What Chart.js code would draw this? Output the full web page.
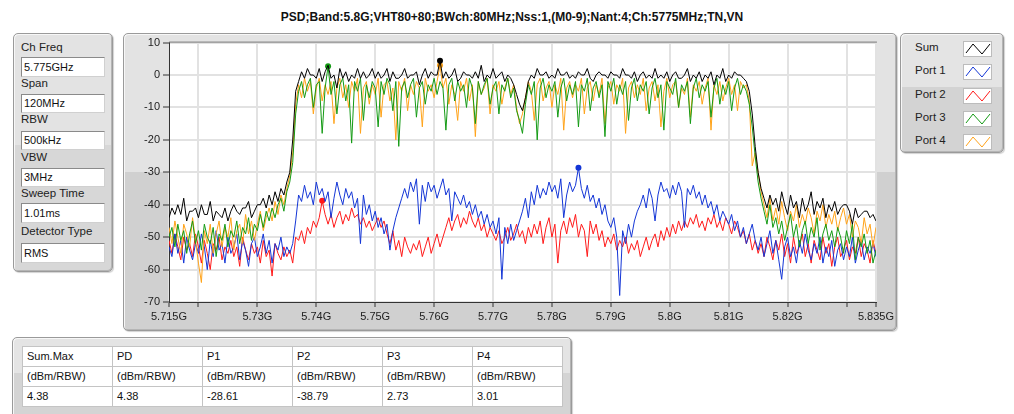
<!DOCTYPE html>
<html><head><meta charset="utf-8">
<script src="https://cdn.jsdelivr.net/npm/chart.js@4.4.1/dist/chart.umd.min.js"></script>
<style>
body{margin:0;width:1014px;height:414px;overflow:hidden;background:#fff;font-family:"Liberation Sans",Arial,sans-serif;position:relative;color:#1a1a1a}
.abs{position:absolute}
.title{left:10px;width:1004px;top:10px;text-align:center;font-weight:bold;font-size:12px;line-height:14px;color:#111}
.panel{position:absolute;box-sizing:border-box;border:1px solid #9a9a9a;border-radius:5px;box-shadow:inset 1px 1px 0 #f7f7f7,inset -1px -1px 0 #b5b5b5,1px 1px 1px rgba(0,0,0,0.18)}
.lbl{position:absolute;left:21px;font-size:11.5px;line-height:14px;color:#222}
.box{position:absolute;left:21px;width:84px;box-sizing:border-box;background:#fff;border:1px solid #8a8a8a;border-right-color:#d0d0d0;border-bottom-color:#d0d0d0;font-size:11px;padding-left:2px;color:#111}
.leg{position:absolute;left:915px;font-size:11.5px;line-height:14px;color:#222}
.sw{position:absolute;left:963px;width:29px;height:16px;box-sizing:border-box;background:#fff;border:1px solid #bcbcbc}
table{position:absolute;left:22px;top:346px;border-collapse:collapse;table-layout:fixed;background:#fff;font-size:11px;color:#111}
td{width:85px;height:19px;padding:0 0 0 4px;border:1px solid #c4c4c4;line-height:19px;white-space:nowrap}
</style></head>
<body>
<div class="abs title">PSD;Band:5.8G;VHT80+80;BWch:80MHz;Nss:1,(M0-9);Nant:4;Ch:5775MHz;TN,VN</div>

<div class="panel" style="left:13px;top:33px;width:100px;height:239px;background:linear-gradient(#e3e3e3 0,#e3e3e3 47%,#d7d7d7 47%,#d7d7d7 100%)"></div>
<div class="lbl" style="top:40px">Ch Freq</div>
<div class="box" style="top:57px;height:20px;line-height:18px">5.775GHz</div>
<div class="lbl" style="top:76px">Span</div>
<div class="box" style="top:94px;height:19px;line-height:17px">120MHz</div>
<div class="lbl" style="top:112px">RBW</div>
<div class="box" style="top:131px;height:19px;line-height:17px">500kHz</div>
<div class="lbl" style="top:150px">VBW</div>
<div class="box" style="top:168px;height:19px;line-height:17px">3MHz</div>
<div class="lbl" style="top:186px">Sweep Time</div>
<div class="box" style="top:203px;height:20px;line-height:18px">1.01ms</div>
<div class="lbl" style="top:224px">Detector Type</div>
<div class="box" style="top:243px;height:20px;line-height:18px">RMS</div>

<div class="panel" style="left:123px;top:33px;width:774px;height:298px;background:linear-gradient(#e3e3e3 0,#e3e3e3 46.6%,#d0d0d0 46.6%,#d0d0d0 100%)"></div>
<canvas id="c" class="abs" width="774" height="298" style="left:123px;top:33px;width:774px;height:298px"></canvas>

<div class="panel" style="left:900px;top:33px;width:104px;height:120px;background:linear-gradient(#e4e4e4 0,#e4e4e4 45%,#d3d3d3 45%,#d3d3d3 100%)"></div>
<div id="legend"></div>

<div class="panel" style="left:12px;top:337px;width:560px;height:90px;background:linear-gradient(#e4e4e4 0,#e4e4e4 40%,#d4d4d4 40%,#d4d4d4 100%)"></div>
<table id="tbl"></table>

<script>
// ---- data ----
const freqStartMHz = 5715;
const freqStepMHz = 0.5;
const seriesNames = ['Sum', 'Port 1', 'Port 2', 'Port 3', 'Port 4'];
const seriesColors = ['#000000', '#1436d6', '#ff1a1a', '#149a14', '#ffa31a'];
const xTickMHz = [5715, 5720, 5730, 5740, 5750, 5760, 5770, 5780, 5790, 5800, 5810, 5820, 5830, 5835];
const xTickLabels = ['5.715G', '', '5.73G', '5.74G', '5.75G', '5.76G', '5.77G', '5.78G', '5.79G', '5.8G', '5.81G', '5.82G', '', '5.835G'];
const tableHeaders = ['Sum.Max', 'PD', 'P1', 'P2', 'P3', 'P4'];
const tableUnits = ['(dBm/RBW)', '(dBm/RBW)', '(dBm/RBW)', '(dBm/RBW)', '(dBm/RBW)', '(dBm/RBW)'];
const tableValues = ['4.38', '4.38', '-28.61', '-38.79', '2.73', '3.01'];

const sumTrace = [
-44,-41,-43,-40,-43,-38,-45,-42,-42,-41,
-44,-40,-43,-43,-39,-45,-42,-43,-44,-41,
-45,-42,-40,-42,-43,-41,-41,-39,-44,-42,
-40,-40,-38,-41,-37,-40,-36,-39,-35,-37,
-33,-30,-20,-5,-2,1,-1,2,0,0,
-1,2,-2,1,3,-1,0,-4,2,-1,
1,-2,0,-1,2,-1,1,-1,0,2,
-1,1,-1,0,2,-2,1,-1,-1,0,
2,-1,0,0,1,-3,0,2,-1,1,
0,0,4.38,-1,1,-1,0,2,-2,-1,
1,0,0,-1,1,-1,3,-2,0,-1,
2,-1,0,1,-2,0,-1,-3,-6,-9,
-11,-7,-2,0,-1,2,0,0,1,-1,
0,-1,2,0,0,1,-1,0,-1,1,
0,0,2,-1,-2,0,1,0,0,-1,
1,0,0,-1,2,0,0,-1,1,-2,
0,1,-1,0,-1,2,-1,0,-1,1,
-2,0,1,-1,-1,0,2,-2,0,-1,
1,-2,0,-1,1,-3,0,-1,2,-2,
0,-1,1,0,0,-1,-2,-5,-12,-22,
-30,-35,-38,-41,-37,-40,-38,-42,-36,-40,
-43,-37,-41,-39,-44,-38,-42,-40,-36,-43,
-39,-41,-38,-44,-40,-42,-39,-43,-41,-40,
-40,-42,-46,-41,-44,-43,-42,-42,-44,-43,
-45];

const port1Trace = [
-53,-56,-49,-55,-51,-58,-50,-54,-57,-52,
-55,-49,-53,-60,-51,-56,-48,-54,-52,-58,
-50,-55,-53,-49,-57,-51,-54,-59,-52,-50,
-56,-53,-49,-55,-51,-58,-52,-54,-50,-56,
-53,-55,-52,-45,-37,-39,-34,-38,-36,-40,
-33,-37,-35,-39,-36,-44,-38,-33,-37,-40,
-35,-38,-36,-41,-38,-52,-37,-43,-40,-45,
-42,-47,-44,-49,-46,-54,-48,-44,-41,-38,
-35,-38,-33,-36,-32,-46,-34,-39,-33,-36,
-34,-38,-35,-32,-37,-35,-45,-36,-38,-40,
-37,-41,-39,-43,-40,-44,-42,-46,-43,-47,
-45,-49,-44,-63,-47,-52,-46,-51,-48,-45,
-42,-38,-44,-36,-40,-34,-38,-35,-37,-33,
-36,-34,-38,-32,-44,-37,-33,-36,-34,-28.61,
-35,-38,-34,-39,-37,-41,-38,-43,-40,-45,
-47,-44,-50,-68,-48,-52,-46,-50,-45,-42,
-40,-37,-41,-35,-38,-45,-37,-33,-36,-35,
-38,-34,-37,-33,-36,-47,-35,-37,-34,-38,
-36,-40,-37,-41,-39,-43,-40,-45,-42,-44,
-46,-43,-48,-45,-50,-47,-52,-49,-46,-51,
-54,-50,-56,-52,-48,-55,-51,-57,-63,-53,
-50,-56,-53,-58,-51,-55,-49,-54,-57,-52,
-55,-50,-58,-53,-56,-51,-59,-54,-52,-57,
-53,-56,-50,-58,-54,-51,-57,-53,-55,-52,
-56];

const port2Trace = [
-51,-55,-49,-53,-57,-50,-54,-52,-56,-49,
-53,-58,-51,-55,-60,-52,-54,-50,-57,-53,
-55,-51,-56,-53,-59,-50,-54,-57,-52,-55,
-53,-58,-51,-56,-54,-62,-52,-55,-57,-53,
-56,-54,-58,-50,-51,-48,-52,-47,-49,-45,
-47,-44,-38.79,-43,-46,-43,-47,-44,-42,-46,
-43,-45,-41,-44,-43,-46,-44,-47,-45,-48,
-46,-44,-47,-45,-49,-52,-48,-54,-51,-56,
-50,-53,-55,-52,-54,-51,-56,-53,-50,-55,
-52,-49,-53,-50,-47,-44,-48,-45,-43,-47,
-44,-46,-42,-45,-47,-44,-48,-46,-50,-47,
-49,-51,-48,-52,-50,-47,-51,-49,-46,-50,
-48,-52,-47,-50,-46,-49,-45,-52,-47,-44,
-50,-46,-58,-48,-45,-49,-44,-47,-43,-50,
-46,-48,-56,-45,-49,-46,-51,-48,-53,-50,
-52,-49,-54,-51,-53,-50,-55,-52,-54,-51,
-56,-53,-50,-54,-51,-49,-53,-48,-51,-47,
-50,-46,-49,-45,-48,-45,-47,-44,-46,-43,
-47,-45,-48,-44,-46,-43,-47,-45,-48,-44,
-46,-49,-45,-47,-50,-48,-52,-49,-54,-51,
-55,-52,-56,-50,-53,-57,-51,-54,-49,-56,
-52,-58,-50,-55,-53,-49,-56,-52,-58,-51,
-54,-57,-50,-55,-52,-59,-53,-50,-56,-54,
-51,-57,-53,-55,-50,-56,-52,-54,-58,-51,
-55];

const port3Trace = [
-50,-47,-53,-46,-51,-48,-55,-49,-45,-52,
-48,-54,-46,-50,-52,-47,-56,-49,-51,-46,
-53,-48,-50,-45,-52,-47,-49,-44,-51,-46,
-48,-43,-47,-42,-45,-41,-44,-40,-38,-42,
-36,-33,-27,-12,-5,-2,-7,-3,-1,-10,
-3,-2,-18,-4,2.73,-6,-2,-12,-3,-1,
-8,-3,-21,-2,-5,-1,-14,-3,-7,-2,
-4,-16,-2,-6,-1,-3,-11,-2,-22,-4,
-2,-7,-3,-1,-13,-4,-2,-9,-3,-5,
-1,-6,-2,-4,-17,-3,-1,-8,-2,-5,
-3,-10,-1,-4,-15,-2,-6,-3,-1,-9,
-4,-2,-12,-3,-5,-1,-7,-4,-11,-14,
-18,-9,-3,-6,-2,-20,-4,-1,-7,-3,
-5,-2,-13,-4,-1,-8,-3,-6,-2,-16,
-3,-5,-1,-11,-4,-2,-7,-3,-19,-2,
-5,-1,-9,-3,-6,-2,-14,-4,-1,-8,
-3,-5,-2,-12,-4,-1,-7,-3,-17,-2,
-4,-6,-1,-10,-3,-5,-2,-15,-4,-1,
-7,-3,-5,-2,-13,-4,-1,-9,-3,-6,
-2,-11,-4,-1,-6,-3,-5,-9,-16,-25,
-33,-38,-42,-46,-40,-47,-44,-49,-45,-51,
-47,-43,-50,-46,-53,-48,-45,-52,-47,-50,
-44,-54,-49,-46,-51,-48,-53,-47,-50,-55,
-48,-52,-46,-57,-50,-53,-49,-55,-51,-58,
-54];

const port4Trace = [
-47,-52,-45,-50,-55,-46,-49,-53,-44,-51,
-58,-64,-48,-52,-46,-55,-49,-45,-53,-47,
-50,-44,-54,-48,-46,-52,-43,-49,-45,-51,
-46,-42,-48,-44,-41,-45,-39,-43,-37,-40,
-35,-31,-24,-9,-3,-7,-1,-5,-2,-12,
-4,-1,-8,-3,-6,-2,-15,-4,-1,-7,
-3,-10,-2,-5,-1,-18,-4,-2,-9,-3,
-6,-1,-13,-3,-2,-8,-4,-20,-2,-5,
-1,-11,-3,-6,-2,-4,-16,-1,-5,-3,
-7,-2,3.01,-4,-1,-9,-3,-6,-14,-2,
-5,-1,-8,-3,-19,-2,-6,-4,-1,-12,
-3,-5,-2,-9,-4,-1,-6,-3,-10,-15,
-12,-7,-2,-5,-14,-3,-1,-8,-4,-2,
-10,-3,-6,-1,-17,-4,-2,-7,-3,-5,
-1,-12,-4,-2,-8,-3,-6,-1,-15,-4,
-2,-9,-3,-5,-1,-18,-4,-2,-7,-3,
-6,-1,-11,-4,-2,-8,-3,-16,-5,-1,
-7,-3,-2,-10,-4,-6,-1,-13,-3,-5,
-2,-9,-4,-1,-17,-3,-6,-2,-8,-4,
-1,-6,-3,-11,-2,-4,-3,-8,-28,-24,
-30,-36,-40,-44,-38,-45,-41,-46,-39,-44,
-48,-42,-45,-40,-47,-43,-46,-41,-44,-49,
-42,-45,-40,-47,-43,-46,-42,-48,-44,-41,
-46,-43,-50,-45,-47,-52,-44,-49,-46,-53,
-47];

const traces = [sumTrace, port1Trace, port2Trace, port3Trace, port4Trace];
const drawOrder = [1, 4, 5, 2, 3];

// ---- legend & table (HTML) ----
const legendEl = document.getElementById('legend');
seriesNames.forEach((name, k) => {
  const cy = 47 + k * 23.3;
  const t = document.createElement('div');
  t.className = 'leg'; t.style.top = (cy - 7) + 'px'; t.textContent = name;
  legendEl.appendChild(t);
  const s = document.createElement('div');
  s.className = 'sw'; s.style.top = (cy - 6) + 'px';
  s.innerHTML = '<svg width="27" height="14"><polyline points="2,11 9,2 18,12 26,2" fill="none" stroke="' + seriesColors[k] + '" stroke-width="1"/></svg>';
  legendEl.appendChild(s);
});
const tbl = document.getElementById('tbl');
[tableHeaders, tableUnits, tableValues].forEach(row => {
  const tr = document.createElement('tr');
  row.forEach(v => { const td = document.createElement('td'); td.textContent = v; tr.appendChild(td); });
  tbl.appendChild(tr);
});

// ---- chart ----
Chart.defaults.font.family = '"Liberation Sans", Arial, sans-serif';
Chart.defaults.font.size = 11;

const datasets = traces.map((arr, k) => {
  const peak = arr.indexOf(Math.max(...arr));
  return {
    label: seriesNames[k],
    data: arr.map((y, i) => ({ x: freqStartMHz + i * freqStepMHz, y })),
    borderColor: seriesColors[k],
    backgroundColor: seriesColors[k],
    borderWidth: 1,
    borderJoinStyle: 'round',
    pointRadius: c => (c.dataIndex === peak ? 3 : 0),
    pointBorderWidth: 0,
    pointHoverRadius: 0,
    tension: 0,
    fill: false,
    order: drawOrder[k]
  };
});

const plotBg = {
  id: 'plotBg',
  beforeDraw(chart) {
    const a = chart.chartArea, ctx = chart.ctx;
    ctx.save(); ctx.fillStyle = '#ffffff';
    ctx.fillRect(a.left, a.top, a.right - a.left, a.bottom - a.top);
    ctx.restore();
  },
  afterDraw(chart) {
    const a = chart.chartArea, ctx = chart.ctx;
    ctx.save(); ctx.strokeStyle = '#7a7a7a'; ctx.lineWidth = 1;
    ctx.beginPath(); ctx.moveTo(a.left, a.top - 0.5); ctx.lineTo(a.right + 1, a.top - 0.5); ctx.stroke();
    ctx.restore();
  }
};

new Chart(document.getElementById('c'), {
  type: 'line',
  data: { datasets },
  plugins: [plotBg],
  options: {
    responsive: false,
    animation: false,
    events: [],
    layout: { padding: { top: 8, right: 20, left: 0, bottom: 0 } },
    plugins: { legend: { display: false }, tooltip: { enabled: false } },
    scales: {
      x: {
        type: 'linear', min: 5715, max: 5835,
        afterBuildTicks: ax => { ax.ticks = xTickMHz.map(v => ({ value: v })); },
        afterFit: s => { s.height = 29; },
        ticks: {
          autoSkip: false, maxRotation: 0, color: '#222', padding: 3,
          callback: v => { const i = xTickMHz.indexOf(v); return i >= 0 ? xTickLabels[i] : ''; }
        },
        grid: { color: '#e2e2e2', lineWidth: 2, tickColor: '#333', tickWidth: 1, tickLength: 5 },
        border: { display: true, color: '#333', width: 1 }
      },
      y: {
        min: -70, max: 10,
        afterFit: s => { s.width = 46; },
        ticks: { stepSize: 10, color: '#222', padding: 3 },
        grid: { color: '#e2e2e2', lineWidth: 2, tickColor: '#333', tickWidth: 1, tickLength: 6 },
        border: { display: true, color: '#333', width: 1 }
      }
    }
  }
});
</script>
</body></html>
